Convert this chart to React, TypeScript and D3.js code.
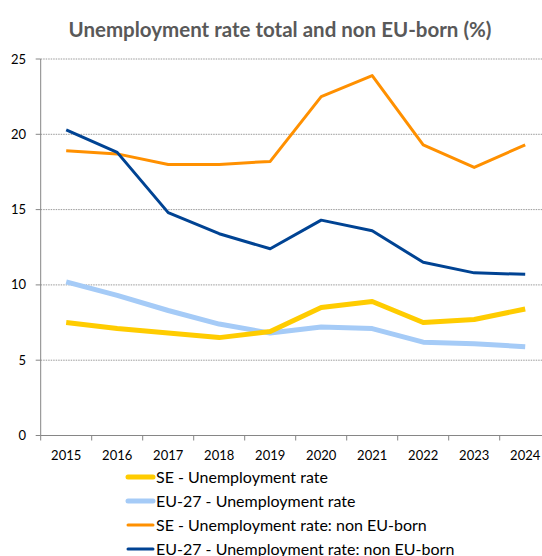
import React from "react";
import * as d3 from "d3";

const years = ["2015", "2016", "2017", "2018", "2019", "2020", "2021", "2022", "2023", "2024"];
const seTotal = [7.5, 7.1, 6.8, 6.5, 6.9, 8.5, 8.9, 7.5, 7.7, 8.4];
const euTotal = [10.2, 9.3, 8.3, 7.4, 6.8, 7.2, 7.1, 6.2, 6.1, 5.9];
const seNonEU = [18.9, 18.7, 18.0, 18.0, 18.2, 22.5, 23.9, 19.3, 17.8, 19.3];
const euNonEU = [20.3, 18.8, 14.8, 13.4, 12.4, 14.3, 13.6, 11.5, 10.8, 10.7];
const yTicks = [0, 5, 10, 15, 20, 25];
const seriesNames = [
  "SE - Unemployment rate",
  "EU-27 - Unemployment rate",
  "SE - Unemployment rate: non EU-born",
  "EU-27 - Unemployment rate: non EU-born",
];
const title = "Unemployment rate total and non EU-born (%)";

const series = [
  { name: seriesNames[0], values: seTotal, color: "#FFCC00", width: 5 },
  { name: seriesNames[1], values: euTotal, color: "#A5CBF7", width: 5 },
  { name: seriesNames[2], values: seNonEU, color: "#FF9000", width: 3 },
  { name: seriesNames[3], values: euNonEU, color: "#004393", width: 3 },
];

const FONT = "Lato, 'Open Sans', sans-serif";

export default function App() {
  const W = 542;
  const H = 556;
  const left = 40.7;
  const right = left + 510;
  const top = 59;
  const bottom = 435.5;

  const x = d3.scaleBand<string>().domain(years).range([left, right]).padding(0);
  const y = d3.scaleLinear().domain([0, 25]).range([bottom, top]);
  const cx = (d: string) => (x(d) as number) + x.bandwidth() / 2;

  const line = d3
    .line<number>()
    .x((_, i) => cx(years[i]))
    .y((v) => y(v));

  const drawOrder = [1, 0, 2, 3];

  return (
    <svg width={W} height={H} style={{ position: "absolute", left: 0, top: 0, display: "block" }}>
      <rect x={0} y={0} width={W} height={H} fill="#fff" />
      <text
        x={W / 2 + 9}
        y={37}
        textAnchor="middle"
        fontFamily={FONT}
        fontWeight={700}
        fontSize={20.5}
        fill="#595959"
      >
        {title}
      </text>
      {yTicks.map((t) => (
        <g key={t}>
          {t > 0 && (
            <line
              x1={left}
              x2={W}
              y1={y(t)}
              y2={y(t)}
              stroke="#9a9a9a"
              strokeWidth={1}
              strokeDasharray="1.5,1"
            />
          )}
          <line x1={left - 5} x2={left} y1={y(t)} y2={y(t)} stroke="#868686" />
          <text
            x={26}
            y={y(t)}
            dy="0.35em"
            textAnchor="end"
            fontFamily={FONT}
            fontSize={13}
            fill="#000"
          >
            {t}
          </text>
        </g>
      ))}
      <line x1={left} x2={left} y1={top} y2={bottom} stroke="#868686" strokeWidth={1} />
      <line x1={left} x2={W} y1={bottom} y2={bottom} stroke="#868686" strokeWidth={1} />
      {years.map((yr) => (
        <g key={yr}>
          <line
            x1={x(yr) as number}
            x2={x(yr) as number}
            y1={bottom}
            y2={bottom + 5}
            stroke="#868686"
          />
          <text
            x={cx(yr)}
            y={460}
            textAnchor="middle"
            fontFamily={FONT}
            fontSize={13}
            fill="#000"
          >
            {yr}
          </text>
        </g>
      ))}
      {drawOrder.map((i) => {
        const s = series[i];
        return (
          <path
            key={s.name}
            d={line(s.values) as string}
            fill="none"
            stroke={s.color}
            strokeWidth={s.width}
            strokeLinejoin="round"
            strokeLinecap="butt"
          />
        );
      })}
      {series.map((s, i) => {
        const ly = 477 + i * 24;
        return (
          <g key={"lg" + i}>
            <line x1={128} x2={153} y1={ly} y2={ly} stroke={s.color} strokeWidth={s.width} strokeLinecap="round" />
            <text x={156} y={ly} dy="0.36em" fontFamily={FONT} fontSize={16} fill="#000">
              {s.name}
            </text>
          </g>
        );
      })}
    </svg>
  );
}
